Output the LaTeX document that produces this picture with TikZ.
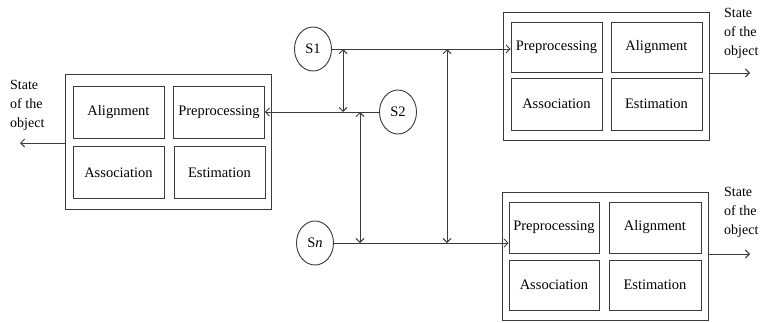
\documentclass[tikz,border=0pt]{standalone}
\usepackage{fontspec}
\setmainfont{Liberation Serif}
\usetikzlibrary{arrows.meta,shapes.geometric}
\definecolor{linegray}{HTML}{3A3A3A}
\begin{document}
\begin{tikzpicture}[x=1pt,y=-1pt,
  every node/.style={font=\fontsize{14.5}{17}\selectfont},
  frame/.style={draw=linegray,line width=0.9pt,minimum width=206pt,inner sep=0pt},
  unit/.style={draw=linegray,line width=0.9pt,minimum width=91pt,minimum height=52pt,inner sep=0pt},
  sensor/.style={ellipse,draw=linegray,line width=0.9pt,minimum width=37pt,minimum height=44pt,inner sep=0pt},
  link/.style={draw=linegray,line width=0.9pt},
  tip/.style={-{Straight Barb[length=4pt,width=8pt]}},
  dtip/.style={{Straight Barb[length=4pt,width=8pt]}-{Straight Barb[length=4pt,width=8pt]}},
  statelbl/.style={align=left,anchor=north west,inner sep=0pt,font=\fontsize{14}{19}\selectfont}]
\useasboundingbox (0,0) rectangle (760,322);

% fusion block on the left
\node[frame,minimum height=135pt] (fL) at (168,141.5) {};
\node[unit] (alL) at (118.5,112.5) {Alignment};
\node[unit] (prL) at (219,112) {Preprocessing};
\node[unit] (asL) at (118.5,172.5) {Association};
\node[unit] (esL) at (219.5,172.5) {Estimation};

% fusion block at the top right
\node[frame,minimum height=128pt] (fT) at (606,76) {};
\node[unit,minimum height=50pt] (prT) at (556.5,47) {Preprocessing};
\node[unit,minimum height=50pt] (alT) at (656.5,47) {Alignment};
\node[unit] (asT) at (556.5,104) {Association};
\node[unit] (esT) at (656.5,104) {Estimation};

% fusion block at the bottom right
\node[frame,minimum height=128pt] (fB) at (605,256) {};
\node[unit,minimum width=90pt,minimum height=51pt] (prB) at (554,227.5) {Preprocessing};
\node[unit,minimum width=92pt,minimum height=51pt] (alB) at (655,227.5) {Alignment};
\node[unit,minimum width=90pt,minimum height=50pt] (asB) at (554,285) {Association};
\node[unit,minimum width=92pt,minimum height=50pt] (esB) at (655,285) {Estimation};

% sensors
\node[sensor] (s1) at (313,49) {S1};
\node[sensor] (s2) at (398,112) {S2};
\node[sensor] (sn) at (315,243) {S\textit{n}};

% sensor feeds
\draw[link,tip] (s1.east) -- (s1.east -| prT.west);
\draw[link,tip] (s2.west) -- (s2.west -| prL.east);
\draw[link,tip] (sn.east) -- (sn.east -| prB.west);

% exchange between sensors
\coordinate (a1) at (343,49);
\coordinate (a2) at (343,112);
\coordinate (b1) at (360,112);
\coordinate (b2) at (360,243);
\coordinate (c1) at (447,49);
\coordinate (c2) at (447,243);
\draw[link,dtip] (a1) -- (a2);
\draw[link,dtip] (b1) -- (b2);
\draw[link,dtip] (c1) -- (c2);

% outputs
\coordinate (oL) at (20,143);
\coordinate (oT) at (750,73);
\coordinate (oB) at (750,254);
\draw[link,tip] (fL.west |- oL) -- (oL);
\draw[link,tip] (fT.east |- oT) -- (oT);
\draw[link,tip] (fB.east |- oB) -- (oB);

\node[statelbl] (tL) at (10,80) {State\\of the\\object};
\node[statelbl] (tT) at (724,8) {State\\of the\\object};
\node[statelbl] (tB) at (724,187) {State\\of the\\object};
\end{tikzpicture}
\end{document}
